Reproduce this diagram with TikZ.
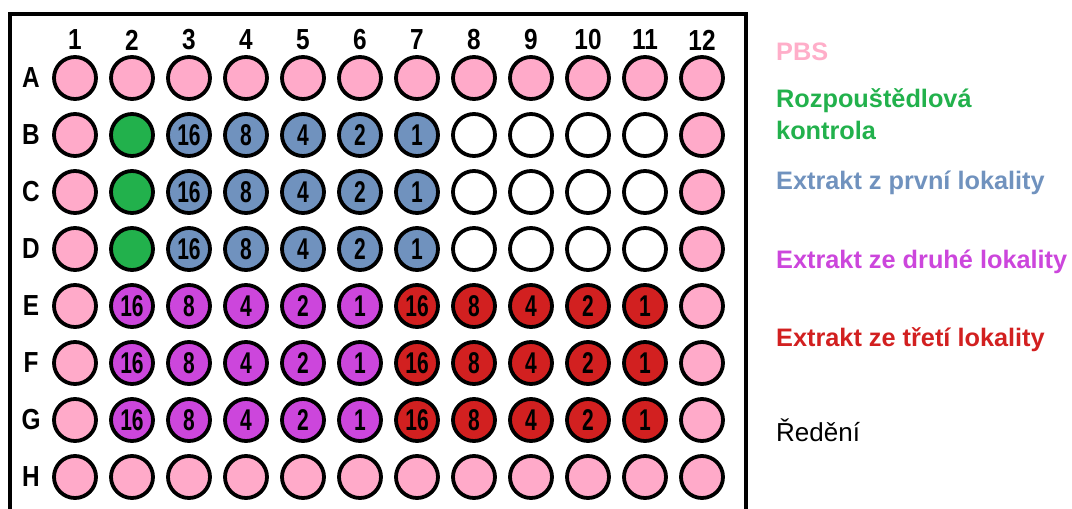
\documentclass[tikz,border=0pt]{standalone}
\usepackage{fontspec}
\setmainfont{Liberation Sans}
\newfontfamily\platenarrow[FakeStretch=0.7]{Liberation Sans}
\newfontfamily\platelab[FakeStretch=0.84]{Liberation Sans}
\usetikzlibrary{positioning}
\definecolor{wpink}{HTML}{FFAAC9}
\definecolor{lpink}{HTML}{FFAEC9}
\definecolor{wgreen}{HTML}{22B14C}
\definecolor{wblue}{HTML}{7092BE}
\definecolor{wviolet}{HTML}{CC46DC}
\definecolor{wred}{HTML}{D22020}
\definecolor{wink}{HTML}{000000}
\tikzset{
  well/.style={
    circle, draw=wink, line width=3.8pt, fill=#1, minimum size=42pt,
    inner sep=0pt, text=wink,
    font=\fontsize{30}{30}\platenarrow\bfseries\selectfont},
  platelabel/.style={text=wink, inner sep=0pt,
    font=\fontsize{29}{29}\platelab\bfseries\selectfont},
  legendtext/.style={text=#1, anchor=west, inner sep=0pt, align=left,
    font=\fontsize{25.3}{32}\selectfont\bfseries},
}
% one well at (row index, column)
\newcommand{\wellat}[4]{%
  \node[well=#3] (w#1-#2) at ({75+57*(#2-1)},{78+57*(#1-1)}) {#4};}

\begin{document}
\begin{tikzpicture}[x=1pt,y=-1pt]
\useasboundingbox (0,0) rectangle (1072,509);

% plate frame
\draw[line width=4pt,wink] (10,509) -- (10,14) -- (746,14) -- (746,509);

% column and row labels
\foreach \c in {1,...,12}
  \node[platelabel] (col\c) at ({75+57*(\c-1)},40) {\c};
\foreach \r [count=\i] in {A,B,C,D,E,F,G,H}
  \node[platelabel] (row\r) at (31,{78+57*(\i-1)}) {\r};

% PBS wells
\foreach \c in {1,...,12} {
  \wellat{1}{\c}{wpink}{}
  \wellat{8}{\c}{wpink}{}
}
\foreach \i in {2,...,7} {
  \wellat{\i}{1}{wpink}{}
  \wellat{\i}{12}{wpink}{}
}

% solvent control and empty wells
\foreach \i in {2,3,4} {
  \wellat{\i}{2}{wgreen}{}
  \foreach \c in {8,...,11} {\wellat{\i}{\c}{white}{}}
}

% extracts with dilutions
\foreach \c/\d in {3/16,4/8,5/4,6/2,7/1} {
  \foreach \i in {2,3,4} {\wellat{\i}{\c}{wblue}{\d}}
}
\foreach \c/\d in {2/16,3/8,4/4,5/2,6/1} {
  \foreach \i in {5,6,7} {\wellat{\i}{\c}{wviolet}{\d}}
}
\foreach \c/\d in {7/16,8/8,9/4,10/2,11/1} {
  \foreach \i in {5,6,7} {\wellat{\i}{\c}{wred}{\d}}
}

% legend
\node[legendtext=lpink] (legPBS) at (776,52) {PBS};
\node[legendtext=wgreen] (legSolv) at (776,114) {Rozpouštědlová\\kontrola};
\node[legendtext=wblue] (legFirst) at (776,183) {Extrakt z první lokality};
\node[legendtext=wviolet] (legSecond) at (776,262) {Extrakt ze druhé lokality};
\node[legendtext=wred] (legThird) at (776,340) {Extrakt ze třetí lokality};
\node[legendtext=wink,font=\fontsize{26}{30}\selectfont] (legDil) at (776,430) {Ředění};

\end{tikzpicture}
\end{document}
